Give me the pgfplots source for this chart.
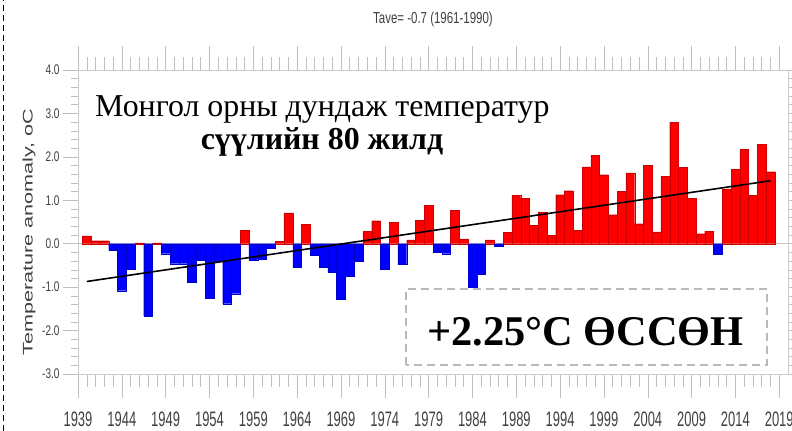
\documentclass[border=0pt]{standalone}
\usepackage{fontspec}
\setmainfont{Liberation Serif}
\newfontfamily\axfont[FakeStretch=0.72]{Liberation Sans}
\newfontfamily\xfont[FakeStretch=0.62]{Liberation Sans}
\newfontfamily\ylabfont[FakeStretch=1.55]{Liberation Sans}
\usepackage{pgfplots}
\pgfplotsset{compat=1.18}
\usepackage{pgfplotstable}

\pgfplotstableread{
year val
1940 0.18
1941 0.07
1942 0.07
1943 -0.14
1944 -1.08
1945 -0.58
1946 0.02
1947 -1.66
1948 0.02
1949 -0.23
1950 -0.46
1951 -0.46
1952 -0.88
1953 -0.38
1954 -1.26
1955 -0.40
1956 -1.38
1957 -1.15
1958 0.31
1959 -0.37
1960 -0.35
1961 -0.10
1962 0.05
1963 0.71
1964 -0.55
1965 0.45
1966 -0.26
1967 -0.55
1968 -0.66
1969 -1.28
1970 -0.75
1971 -0.41
1972 0.28
1973 0.53
1974 -0.58
1975 0.49
1976 -0.48
1977 0.09
1978 0.54
1979 0.88
1980 -0.19
1981 -0.23
1982 0.77
1983 0.11
1984 -1.01
1985 -0.70
1986 0.09
1987 -0.05
1988 0.26
1989 1.12
1990 1.05
1991 0.42
1992 0.73
1993 0.19
1994 1.13
1995 1.22
1996 0.31
1997 1.77
1998 2.04
1999 1.59
2000 0.67
2001 1.21
2002 1.63
2003 0.46
2004 1.81
2005 0.27
2006 1.55
2007 2.80
2008 1.76
2009 1.05
2010 0.23
2011 0.29
2012 -0.25
2013 1.26
2014 1.72
2015 2.17
2016 1.12
2017 2.29
2018 1.66
}\anom

\pgfplotsset{
  frame/.style={
    at={(78bp,57bp)}, anchor=south west,
    width=710bp, height=304bp, scale only axis,
    xmin=1939, xmax=2020, ymin=-3, ymax=4,
    tick align=outside, tick pos=both,
    tick style={gray!50, line width=0.5pt},
    axis line style={gray!40, line width=0.6pt},
    clip=false,
  }
}

\begin{document}
\begin{tikzpicture}
\path[use as bounding box] (0,0) rectangle (792bp,431bp);
% axis carrying the x ticks (longer, as in the reference)
\begin{axis}[frame,
  xtick={1939,1944,...,2019},
  xticklabels={1939,1944,1949,1954,1959,1964,1969,1974,1979,1984,1989,1994,1999,2004,2009,2014,2019},
  minor x tick num=4,
  ytick=\empty,
  major tick length=24bp, minor tick length=13bp,
  xticklabel style={font=\xfont\fontsize{21}{21}\selectfont, text=black!75, yshift=-10bp},
]
\end{axis}
% axis carrying the y ticks and the data
\begin{axis}[frame,
  xtick=\empty,
  ytick={-3,-2,...,4},
  yticklabels={-3.0,-2.0,-1.0,0.0,1.0,2.0,3.0,4.0},
  minor y tick num=4,
  major tick length=15bp, minor tick length=7bp,
  yticklabel style={font=\axfont\fontsize{14}{14}\selectfont, text=black!75},
  ybar, bar width=1, bar shift=0pt,
]
\addplot[sharp plot, no marks, gray!45, line width=0.6pt] coordinates {(1939,0) (2020,0)};
\addplot[ybar, bar width=1, bar shift=0pt, fill=red, draw=red!80!black, line width=0.2pt,
  restrict y to domain=0:10] table[x=year, y=val] {\anom};
\addplot[ybar, bar width=1, bar shift=0pt, fill=blue, draw=blue!80!black, line width=0.2pt,
  restrict y to domain=-10:0] table[x=year, y=val] {\anom};
\addplot[sharp plot, no marks, black, line width=1.6pt] coordinates {(1940,-0.87) (2018,1.45)};
\end{axis}
% title and y label
\node[font=\axfont\fontsize{16}{16}\selectfont, text=black!75] at (433bp,412bp) {Tave= -0.7 (1961-1990)};
\node[rotate=90, font=\ylabfont\fontsize{14}{14}\selectfont, text=black!75] at (29bp,199bp) {Temperature anomaly, oC};
% left dashed border
\draw[black, line width=1bp, dash pattern=on 6bp off 4bp] (3bp,0bp) -- (3bp,431bp);
% annotations
\node[anchor=base west, inner sep=0pt, font=\fontsize{32}{32}\selectfont] at (95bp,314bp) {Монгол орны дундаж температур};
\node[anchor=base, inner sep=0pt, font=\bfseries\fontsize{32}{32}\selectfont] at (322bp,281bp) {сүүлийн 80 жилд};
\draw[gray!55, line width=1.2bp, dash pattern=on 8bp off 5bp] (406bp,66bp) rectangle (767bp,142bp);
\node[anchor=base west, inner sep=0pt, font=\bfseries\fontsize{42.5}{42.5}\selectfont] at (427bp,85bp) {+2.25°C ӨССӨН};
\end{tikzpicture}
\end{document}
